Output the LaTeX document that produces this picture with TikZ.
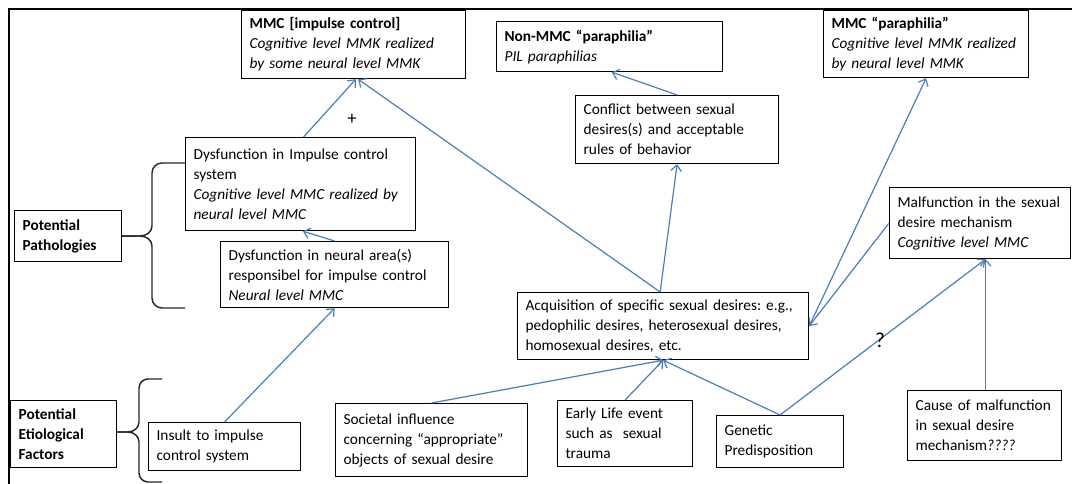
\documentclass[tikz,border=0pt]{standalone}
\usepackage{fontspec}
\setmainfont{Carlito}
\usetikzlibrary{arrows.meta,calc}
\definecolor{arrblue}{RGB}{74,126,187}
\begin{document}
\hyphenpenalty=10000 \exhyphenpenalty=10000 \frenchspacing
\begin{tikzpicture}[x=0.75pt,y=-0.75pt,
  mybox/.style={draw=black, line width=0.9pt, anchor=north west, align=left, inner xsep=6pt, inner ysep=1pt, font=\fontsize{11.5}{15}\selectfont},
  conn/.style={draw=arrblue, line width=0.9pt, -{Straight Barb[length=4.5pt,width=8pt]}},
  curlyb/.style={draw=black!85, line width=1.1pt},
  outerframe/.style={draw=black, line width=1.6pt},
  lbl/.style={font=\fontsize{14}{16}\selectfont, inner sep=0pt}
]
\useasboundingbox (0,0) rectangle (1072,484);
% outer frame (top and left)
\coordinate (fTL) at (9,9);
\coordinate (fTR) at (1072,9);
\coordinate (fBL) at (9,484);
\draw[outerframe] (fTR) -- (fTL) -- (fBL);

% boxes
\node[mybox, text width=156pt, minimum height=51pt] (impctl) at (241,10)
  {\textbf{MMC [impulse control]}\\ \textit{Cognitive level MMK realized}\\ \textit{by some neural level MMK}};
\node[mybox, text width=157.5pt, minimum height=37.5pt] (nonmmc) at (496,21)
  {\textbf{Non-MMC “paraphilia”}\\ \textit{PIL paraphilias}};
\node[mybox, text width=141.75pt, minimum height=50.25pt] (mmcpara) at (823,10)
  {\textbf{MMC “paraphilia”}\\ \textit{Cognitive level MMK realized}\\ \textit{by neural level MMK}};
\node[mybox, text width=140.25pt, minimum height=51pt] (conflict) at (575,95)
  {Conflict between sexual\\ desires(s) and acceptable\\ rules of behavior};
\node[mybox, text width=160.5pt, minimum height=69.75pt] (dysimp) at (185,137)
  {Dysfunction in Impulse control\\ system\\ \textit{Cognitive level MMC realized by}\\ \textit{neural level MMC}};
\node[mybox, text width=159pt, minimum height=49.5pt] (dysneur) at (220,241)
  {Dysfunction in neural area(s)\\ responsibel for impulse control\\ \textit{Neural level MMC}};
\node[mybox, text width=68.25pt, minimum height=38.25pt] (potpath) at (14,210)
  {\textbf{Potential}\\ \textbf{Pathologies}};
\node[mybox, text width=123.75pt, minimum height=53.25pt] (malf) at (889,187)
  {Malfunction in the sexual\\ desire mechanism\\ \textit{Cognitive level MMC}};
\node[mybox, text width=206.25pt, minimum height=50.25pt] (acq) at (517,292)
  {Acquisition of specific sexual desires: e.g.,\\ pedophilic desires, heterosexual desires,\\ homosexual desires, etc.};
\node[mybox, text width=67.5pt, minimum height=50.25pt] (pef) at (10,400)
  {\textbf{Potential}\\ \textbf{Etiological}\\ \textbf{Factors}};
\node[mybox, text width=102pt, minimum height=36pt] (insult) at (148,422)
  {Insult to impulse\\ control system};
\node[mybox, text width=132pt, minimum height=54.75pt] (societal) at (335,403)
  {Societal influence\\ concerning “appropriate”\\ objects of sexual desire};
\node[mybox, text width=89.25pt, minimum height=49.5pt] (early) at (557,400)
  {Early Life event\\ such as~~sexual\\ trauma};
\node[mybox, text width=83.25pt, minimum height=39pt] (genetic) at (716,415)
  {Genetic\\ Predisposition};
\node[mybox, text width=103.5pt, minimum height=52.5pt] (cause) at (907,390)
  {Cause of malfunction\\ in sexual desire\\ mechanism\textit{????}};

% braces
\draw[curlyb] (dysimp.west |- 0,163) -- (162,163) to[out=180,in=90] (152,173) -- (152,226)
  to[out=-90,in=0] (140,236) -- (potpath.east) ;
\draw[curlyb] (potpath.east) -- (140,236) to[out=0,in=90] (152,246) -- (152,298)
  to[out=-90,in=180] (162,308) -- (dysimp.west |- 0,308);
\draw[curlyb] (162,379) -- (148,379) to[out=180,in=90] (139,388) -- (139,422)
  to[out=-90,in=0] (128,432) -- (pef.east |- 0,432);
\draw[curlyb] (pef.east |- 0,432) -- (128,432) to[out=0,in=90] (139,442) -- (139,473)
  to[out=-90,in=180] (148,482) -- (162,482);

% connectors
\coordinate (impS) at ($(impctl.south west)!.51!(impctl.south east)$);
\coordinate (malfS) at ($(malf.south west)!.53!(malf.south east)$);
\draw[conn] ($(dysimp.north west)!.513!(dysimp.north east)$) -- (impS);
\draw[conn] ($(acq.north west)!.49!(acq.north east)$) -- ($(impctl.south west)!.52!(impctl.south east)$);
\draw[conn] ($(acq.north west)!.49!(acq.north east)$) -- (conflict.south);
\draw[conn] (conflict.north) -- ($(nonmmc.south west)!.51!(nonmmc.south east)$);
\draw[conn] (malf.west) -- (acq.east);
\draw[conn] (acq.east) -- (mmcpara.south);
\draw[conn] (dysneur.north) -- ($(dysimp.south west)!.51!(dysimp.south east)$);
\draw[conn] (insult.north) -- (dysneur.south);
\draw[conn] (societal.north) -- (acq.south);
\draw[conn] (early.north) -- (acq.south);
\draw[conn] (genetic.north) -- (acq.south);
\draw[conn] (genetic.north) -- (malfS);
\draw[conn] (malfS |- cause.north) -- (malfS);

% labels
\node[lbl] (plus) at (352,119) {+};
\node[lbl, font=\fontsize{16}{18}\selectfont] (qmark) at (880,340) {?};
\end{tikzpicture}
\end{document}
